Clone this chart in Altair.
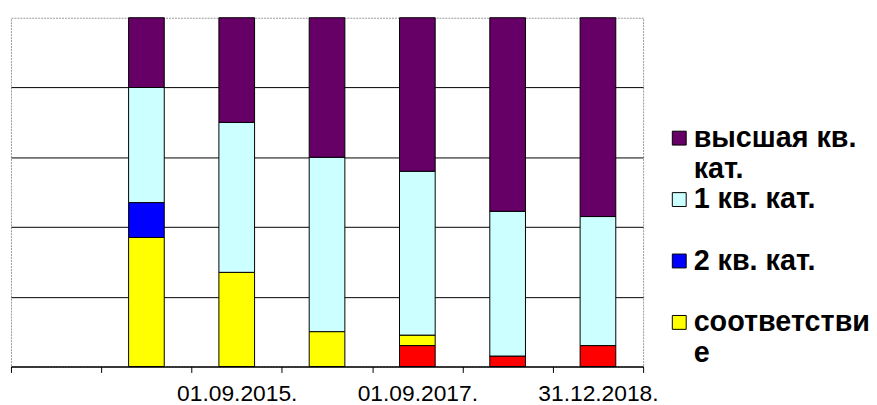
import altair as alt
import pandas as pd

# ---- data (% of each bar) ----
categories = ["", "01.09.2014.", "01.09.2015.", "01.09.2016.", "01.09.2017.", "01.09.2018.", "31.12.2018."]
shown_labels = ["01.09.2015.", "01.09.2017.", "31.12.2018."]
bar_categories = categories[1:]

series = ["без категории", "соответствие", "2 кв. кат.", "1 кв. кат.", "высшая кв. кат."]
colors = ["#FF0000", "#FFFF00", "#0000FF", "#CCFFFF", "#660066"]
legend_series = ["высшая кв. кат.", "1 кв. кат.", "2 кв. кат.", "соответствие"]
legend_wrap = {"высшая кв. кат.": ["высшая кв.", "кат."], "соответствие": ["соответстви", "е"]}

v_none = [0, 0, 0, 6, 3, 6]
v_sootv = [37, 27, 10, 3, 0, 0]
v_2kv = [10, 0, 0, 0, 0, 0]
v_1kv = [33, 43, 50, 47, 41.5, 37]
v_high = [20, 30, 40, 44, 55.5, 57]

values_by_series = [v_none, v_sootv, v_2kv, v_1kv, v_high]

rows = []
for s_idx, (name, vals) in enumerate(zip(series, values_by_series)):
    for cat, v in zip(bar_categories, vals):
        if v > 0:
            rows.append({"cat": cat, "series": name, "value": v, "ord": s_idx})
df = pd.DataFrame(rows)

FONT = "Liberation Sans"
W, H = 638, 352

shown_js = "[" + ",".join("'" + s + "'" for s in shown_labels) + "]"
x_label_expr = f"indexof({shown_js}, datum.label) >= 0 ? datum.label : ''"

parts = []
for name, lines in legend_wrap.items():
    arr = "[" + ",".join("'" + l + "'" for l in lines) + "]"
    parts.append(f"datum.label == '{name}' ? {arr} : ")
legend_label_expr = "".join(parts) + "datum.label"

bars = alt.Chart(df).mark_bar(size=36, stroke="black", strokeWidth=1).encode(
    x=alt.X(
        "cat:N",
        sort=categories,
        scale=alt.Scale(domain=categories, paddingInner=0, paddingOuter=0),
        axis=alt.Axis(
            title=None, tickBand="extent", labelExpr=x_label_expr, labelAngle=0,
            labelOverlap=False, grid=False, domainColor="black", tickColor="black",
            tickSize=6, labelPadding=10, labelFontSize=23, labelFont=FONT, labelColor="black",
        ),
    ),
    y=alt.Y(
        "value:Q",
        stack="normalize",
        scale=alt.Scale(domain=[0, 1], nice=False),
        axis=alt.Axis(
            title=None, labels=False, ticks=False, domain=False,
            values=[0, 0.2, 0.4, 0.6, 0.8], grid=True, gridColor="black", gridWidth=1,
            minExtent=0, maxExtent=0,
        ),
    ),
    color=alt.Color(
        "series:N",
        scale=alt.Scale(domain=series, range=colors),
        legend=alt.Legend(
            title=None, orient="none", legendX=660, legendY=107, values=legend_series,
            symbolType="square", symbolSize=196, symbolStrokeColor="black",
            symbolStrokeWidth=1, symbolOpacity=1,
            labelFont=FONT, labelFontSize=29, labelFontWeight="bold", labelColor="black",
            labelOffset=0, labelLimit=400, rowPadding=1, padding=0, gridAlign="all",
            labelBaseline="middle", labelExpr=legend_label_expr,
        ),
    ),
    order=alt.Order("ord:Q", sort="ascending"),
)

chart = bars.properties(
    width=W, height=H,
    padding={"left": 3, "top": 8, "right": 228, "bottom": 36},
    autosize=alt.AutoSizeParams(type="none"),
).configure_view(stroke="#999999", strokeDash=[2, 1], strokeWidth=1)

chart.save("out.html", embed_options={"renderer": "svg", "actions": False})
